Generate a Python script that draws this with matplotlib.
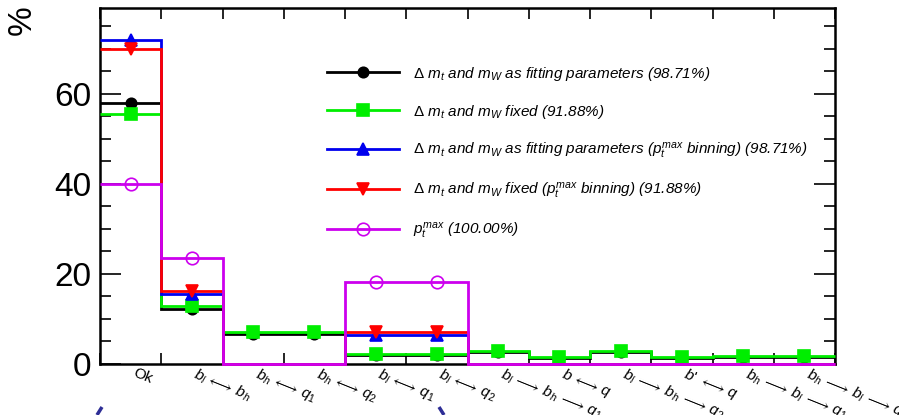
import numpy as np
import matplotlib
matplotlib.use("Agg")
import matplotlib.pyplot as plt
from matplotlib.lines import Line2D
from matplotlib.transforms import blended_transform_factory

plt.rcParams['font.family'] = ['Liberation Sans', 'DejaVu Sans']
plt.rcParams['mathtext.fontset'] = 'custom'
plt.rcParams['mathtext.rm'] = 'Liberation Sans'
plt.rcParams['mathtext.it'] = 'Liberation Sans:italic'
plt.rcParams['mathtext.bf'] = 'Liberation Sans:bold'
plt.rcParams['mathtext.fallback'] = 'stixsans'

# categories (bins)
categories = [
    r'Ok',
    r'$b_l\,\longleftrightarrow\,b_h$',
    r'$b_h\,\longleftrightarrow\,q_1$',
    r'$b_h\,\longleftrightarrow\,q_2$',
    r'$b_l\,\longleftrightarrow\,q_1$',
    r'$b_l\,\longleftrightarrow\,q_2$',
    r'$b_l\,\longrightarrow\,b_h\,\longrightarrow\,q_1$',
    r'$b\,\longleftrightarrow\,q$',
    r'$b_l\,\longrightarrow\,b_h\,\longrightarrow\,q_2$',
    r"$b$' $\longleftrightarrow\,q$",
    r'$b_h\,\longrightarrow\,b_l\,\longrightarrow\,q_1$',
    r'$b_h\,\longrightarrow\,b_l\,\longrightarrow\,q_2$',
]

# percentages per bin
fit_params = [57.9, 12.2, 6.7, 6.7, 2.0, 2.0, 2.6, 1.4, 2.6, 1.4, 1.5, 1.5]
fixed = [55.5, 12.9, 7.1, 7.1, 2.3, 2.3, 2.8, 1.5, 2.8, 1.5, 1.7, 1.7]
fit_params_ptbin = [71.8, 15.6, 0, 0, 6.5, 6.5, 0, 0, 0, 0, 0, 0]
fixed_ptbin = [69.9, 16.3, 0, 0, 7.0, 7.0, 0, 0, 0, 0, 0, 0]
ptmax = [40.0, 23.5, 0, 0, 18.1, 18.1, 0, 0, 0, 0, 0, 0]

series = [
    (fit_params, 'black', 'o', 7.5, r'$\Delta$ $m_t$ and $m_W$ as fitting parameters (98.71%)', 'full'),
    (fixed, '#00ee00', 's', 9, r'$\Delta$ $m_t$ and $m_W$ fixed (91.88%)', 'full'),
    (fit_params_ptbin, '#0000ee', '^', 8.5, r'$\Delta$ $m_t$ and $m_W$ as fitting parameters ($p_t^{max}$ binning) (98.71%)', 'full'),
    (fixed_ptbin, '#ff0000', 'v', 8.5, r'$\Delta$ $m_t$ and $m_W$ fixed ($p_t^{max}$ binning) (91.88%)', 'full'),
    (ptmax, '#cc00ee', 'o', 9, r'$p_t^{max}$ (100.00%)', 'none'),
]

fig = plt.figure(figsize=(8.99, 4.15), dpi=100)
ax = fig.add_axes([100 / 899, 1 - 364 / 415, 735 / 899, 356 / 415])

edges = np.arange(len(categories) + 1)
centers = edges[:-1] + 0.5

handles = []
for k, (vals, col, mk, ms, lab, fill) in enumerate(series):
    vals = np.array(vals)
    ax.stairs(vals, edges, baseline=None, color=col, lw=2, zorder=3 + k, clip_on=False)
    m = vals > 0
    ax.plot(centers[m], vals[m], ls='none', marker=mk, ms=ms, color=col,
            fillstyle=fill, mew=1.2, zorder=3 + k + 0.5)
    handles.append(Line2D([], [], color=col, lw=2, marker=mk, ms=ms, fillstyle=fill, mew=1.2, label=lab))

ax.set_xlim(0, len(categories))
ax.set_ylim(0, 79)

ax.set_xticks(edges)
ax.set_xticklabels([])
ax.set_yticks([0, 20, 40, 60])
ax.set_yticks(np.arange(0, 80, 5), minor=True)
ax.tick_params(axis='x', which='major', direction='in', top=True, length=8, width=1.2)
ax.tick_params(axis='y', which='major', direction='in', right=True, length=15, width=1.2,
               labelsize=24, pad=6)
ax.tick_params(axis='y', which='minor', direction='in', right=True, length=8, width=1.2)
for s in ax.spines.values():
    s.set_linewidth(1.8)

trans = blended_transform_factory(ax.transData, ax.transAxes)
for i, lab in enumerate(categories):
    ax.text(i + 0.6, -0.005, lab, transform=trans, rotation=-22, rotation_mode='anchor',
            ha='left', va='top', fontsize=11)

leg = ax.legend(handles=handles, loc='upper left', bbox_to_anchor=(0.301, 0.858), frameon=False,
                prop={'style': 'italic', 'size': 11}, handlelength=4.7, handletextpad=0.9,
                labelspacing=1.31, borderaxespad=0)

fig.text(22 / 899, 1 - 5 / 415, '%', rotation=90, ha='center', va='top', fontsize=24)

# cropped blue marks at the bottom edge
for x0, x1 in [(97, 102), (444, 439)]:
    fig.add_artist(Line2D([x0 / 899, x1 / 899], [0.0, 8 / 415], color='#2e2e96',
                          lw=2.5, solid_capstyle='butt'))

fig.savefig('out.png', dpi=100)
